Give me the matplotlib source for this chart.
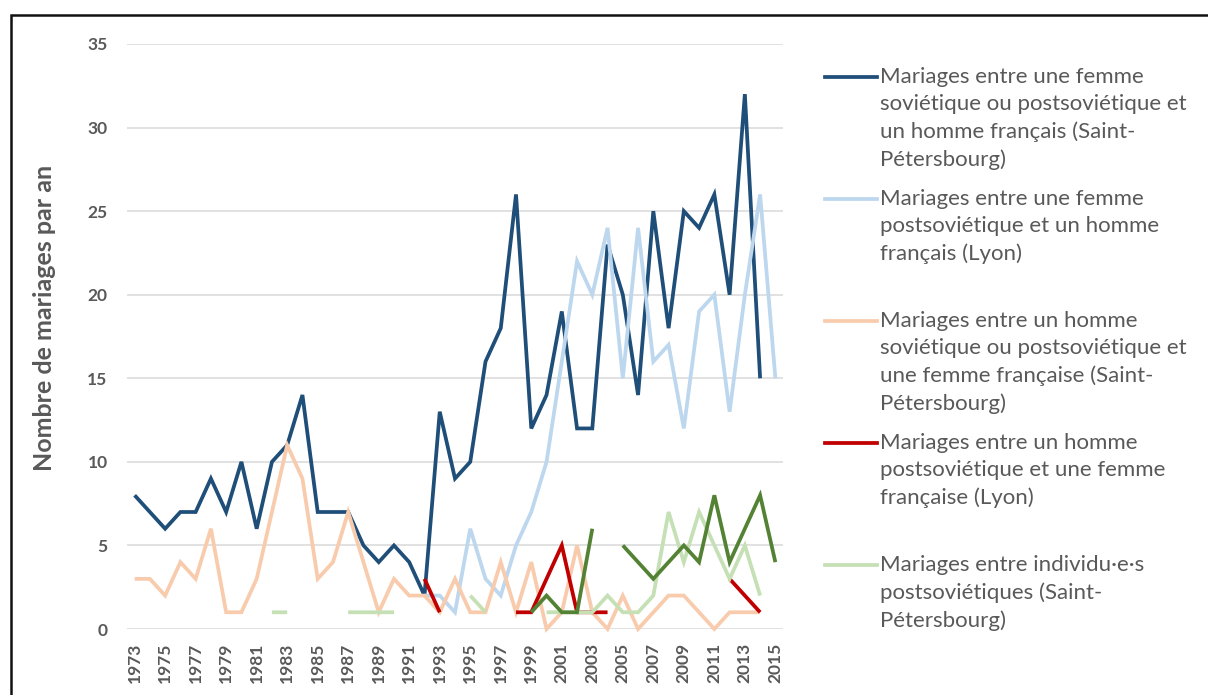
import numpy as np
import matplotlib
matplotlib.use("Agg")
import matplotlib.pyplot as plt
from matplotlib.lines import Line2D
from matplotlib.patches import Rectangle

plt.rcParams["font.family"] = ["Lato", "DejaVu Sans"]

TEXT_GREY = "#595959"
GRID_GREY = "#D9D9D9"

years = list(range(1973, 2016))
year_labels = [str(y) for y in years[::2]]

# None = no marriage recorded that year (gap in the line)
stp_femme = [8, 7, 6, 7, 7, 9, 7, 10, 6, 10,
             11, 14, 7, 7, 7, 5, 4, 5, 4, 2,
             13, 9, 10, 16, 18, 26, 12, 14, 19, 12,
             12, 23, 20, 14, 25, 18, 25, 24, 26, 20,
             32, 15, None]
lyon_femme = [None] * 19 + [2, 2, 1, 6, 3, 2, 5, 7, 10, 16, 22, 20,
                            24, 15, 24, 16, 17, 12, 19, 20, 13, 20, 26, 15]
stp_homme = [3, 3, 2, 4, 3, 6, 1, 1, 3, 7,
             11, 9, 3, 4, 7, 4, 1, 3, 2, 2,
             1, 3, 1, 1, 4, 1, 4, 0, 1, 5,
             1, 0, 2, 0, 1, 2, 2, 1, 0, 1,
             1, 1, None]
lyon_homme = ([None] * 19 + [3, 1] + [None] * 4 + [1, 1, 3, 5, 1, 1, 1]
              + [None] * 7 + [3, 2, 1, None])
stp_postsov = ([None] * 9 + [1, 1] + [None] * 3 + [1, 1, 1, 1] + [None] * 4
               + [2, 1] + [None] * 3
               + [1, 1, 1, 1, 2, 1, 1, 2, 7, 4, 7, 5, 3, 5, 2, None])
lyon_postsov = ([None] * 26 + [1, 2, 1, 1, 6, None]
                + [5, 4, 3, 4, 5, 4, 8, 4, 6, 8, 4])

series = [
    (stp_femme, "#1F4E79",
     "Mariages entre une femme\nsoviétique ou postsoviétique et\nun homme français (Saint-\nPétersbourg)"),
    (lyon_femme, "#BDD7EE",
     "Mariages entre une femme\npostsoviétique et un homme\nfrançais (Lyon)"),
    (stp_homme, "#F8CBAD",
     "Mariages entre un homme\nsoviétique ou postsoviétique et\nune femme française (Saint-\nPétersbourg)"),
    (lyon_homme, "#C00000",
     "Mariages entre un homme\npostsoviétique et une femme\nfrançaise (Lyon)"),
    (stp_postsov, "#C5E0B4",
     "Mariages entre individu·e·s\npostsoviétiques (Saint-\nPétersbourg)"),
    (lyon_postsov, "#548235", None),
]


def to_array(values):
    return np.array([np.nan if v is None else v for v in values], dtype=float)


W, H = 1208, 695
fig = plt.figure(figsize=(W / 100, H / 100), dpi=100)
ax = fig.add_axes([127 / W, 1 - 629 / H, (783 - 127) / W, (629 - 44) / H])

for values, color, _ in series:
    ax.plot(years, to_array(values), color=color, lw=2.7,
            solid_capstyle="butt", solid_joinstyle="miter", clip_on=False, zorder=3)

ax.set_xlim(1972.5, 2015.5)
ax.set_ylim(0, 35)
ax.set_yticks(range(0, 36, 5))
ax.set_xticks(years[::2])
ax.set_xticklabels(year_labels, rotation=90)
ax.grid(axis="y", color=GRID_GREY, lw=1.1, zorder=0)
ax.set_axisbelow(True)
for s in ax.spines.values():
    s.set_visible(False)
ax.tick_params(axis="both", length=0, labelcolor=TEXT_GREY, labelsize=12.5)
ax.tick_params(axis="y", pad=14)
ax.tick_params(axis="x", pad=10)
for lab in ax.get_xticklabels() + ax.get_yticklabels():
    lab.set_fontweight("bold")

fig.text(45 / W, 1 - 318 / H, "Nombre de mariages par an", rotation=90,
         ha="center", va="center", fontsize=18, fontweight="bold", color=TEXT_GREY)

# legend, drawn by hand so the handle sits on the first text line
for i, (values, color, label) in enumerate(series[:5]):
    y = 77 + i * 122
    fig.add_artist(Line2D([825 / W, 877 / W], [1 - y / H, 1 - y / H],
                          color=color, lw=2.7, transform=fig.transFigure))
    fig.text(880 / W, 1 - (y - 10) / H, label, ha="left", va="top",
             fontsize=16, color=TEXT_GREY, linespacing=1.45)

fig.add_artist(Rectangle((11 / W, -0.05), 1.2, 1 - 15 / H + 0.05, fill=False,
                         edgecolor="#111111", lw=1.8, transform=fig.transFigure))

fig.savefig("out.png", dpi=100)
